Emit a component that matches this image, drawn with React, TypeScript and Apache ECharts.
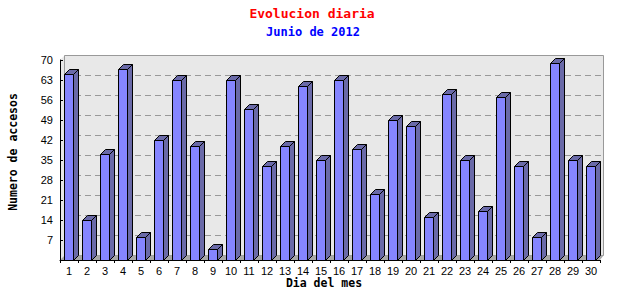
import React, { useEffect, useRef } from "react";
import * as echarts from "echarts";

const days: string[] = [
  "1","2","3","4","5","6","7","8","9","10","11","12","13","14","15",
  "16","17","18","19","20","21","22","23","24","25","26","27","28","29","30",
];
const visits: number[] = [
  65, 14, 37, 67, 8, 42, 63, 40, 4, 63, 53, 33, 40, 61, 35,
  63, 39, 23, 49, 47, 15, 58, 35, 17, 57, 33, 8, 69, 35, 33,
];
const yTicks: number[] = [7, 14, 21, 28, 35, 42, 49, 56, 63, 70];

const titleText = "Evolucion diaria";
const subtitleText = "Junio de 2012";
const yAxisTitle = "Numero de accesos";
const xAxisTitle = "Dia del mes";

const FRONT = "#8585ff";
const SIDE = "#6a6aa8";
const WALL = "#e8e8e8";
const FLOOR = "#a8a8a8";
const DX = 5;
const DY = 5;

export default function App() {
  const ref = useRef<HTMLDivElement>(null);

  useEffect(() => {
    document.body.style.margin = "0";
    if (!ref.current) return;
    const chart = echarts.init(ref.current, undefined, { renderer: "svg" });

    const option: any = {
      animation: false,
      backgroundColor: "#ffffff",
      grid: { left: 60, right: 40, top: 60, bottom: 40, containLabel: false },
      xAxis: {
        type: "category",
        data: days,
        z: 10,
        boundaryGap: true,
        axisLine: { show: true, lineStyle: { color: "#000", width: 1 } },
        axisTick: { show: true, length: 3, inside: false, alignWithLabel: false, lineStyle: { color: "#000" } },
        axisLabel: {
          color: "#000",
          fontFamily: "Liberation Sans",
          fontSize: 11,
          lineHeight: 11,
          margin: 5,
          interval: 0,
        },
        splitLine: { show: false },
      },
      yAxis: {
        type: "value",
        min: 0,
        max: 70,
        interval: 7,
        z: 10,
        axisLine: { show: true, lineStyle: { color: "#000", width: 1 } },
        axisTick: { show: true, length: 3, inside: true, lineStyle: { color: "#000" } },
        axisLabel: {
          color: "#000",
          fontFamily: "Liberation Sans",
          fontSize: 11,
          margin: 7,
          formatter: (v: number) => (v === 0 ? "" : String(v)),
        },
        splitLine: { show: false },
      },
      series: [
        {
          type: "custom",
          z: 0,
          silent: true,
          data: [[0, 0]],
          renderItem: (params: any, api: any) => {
            const cs = params.coordSys;
            const gx = cs.x, gy = cs.y, gw = cs.width, gh = cs.height;
            const bx0 = Math.round(gx + 3.5) + 0.5;
            const bx1 = Math.round(gx + gw + 2.5) + 0.5;
            const by0 = Math.round(gy - DY) + 0.5;
            const by1 = Math.round(gy + gh - DY) + 0.5;
            return {
              type: "group",
              children: [
                {
                  type: "polygon",
                  shape: { points: [[gx, gy], [bx0, by0], [bx0, by1], [gx, gy + gh]] },
                  style: { fill: WALL, stroke: null },
                },
                {
                  type: "rect",
                  shape: { x: bx0, y: by0, width: bx1 - bx0, height: by1 - by0 },
                  style: { fill: WALL, stroke: "#999999", lineWidth: 1 },
                },
                {
                  type: "polygon",
                  shape: { points: [[gx, gy + gh], [gx + gw, gy + gh], [bx1, by1], [bx0, by1]] },
                  style: { fill: FLOOR, stroke: null },
                },
              ],
            };
          },
        },
        {
          type: "custom",
          z: 1,
          silent: true,
          data: yTicks.map((v) => [0, v]),
          renderItem: (params: any, api: any) => {
            const cs = params.coordSys;
            const v = api.value(1);
            if (v >= 70) return { type: "group", children: [] };
            const y = Math.round(api.coord([0, v])[1] - DY) + 0.5;
            const x0 = Math.round(cs.x + 3.5) + 1;
            const x1 = Math.round(cs.x + cs.width + 2.5);
            return {
              type: "line",
              shape: { x1: x0, y1: y, x2: x1, y2: y },
              style: { stroke: "#999999", lineWidth: 1, lineDash: [6, 4] },
            };
          },
        },
        {
          type: "custom",
          z: 2,
          data: visits.map((v, i) => [i, v]),
          renderItem: (params: any, api: any) => {
            const idx = api.value(0);
            const v = api.value(1);
            const top = api.coord([idx, v]);
            const base = api.coord([idx, 0]);
            const w = 9;
            const x0 = Math.round(top[0] - 5.3) + 0.5;
            const x1 = x0 + w;
            const yT = Math.round(top[1]) + 0.5;
            const yB = Math.round(base[1]) + 0.5;
            return {
              type: "group",
              children: [
                {
                  type: "polygon",
                  shape: { points: [[x1, yB], [x1, yT], [x1 + DX, yT - DY], [x1 + DX, yB - DY]] },
                  style: { fill: SIDE, stroke: "#000", lineWidth: 1 },
                },
                {
                  type: "polygon",
                  shape: { points: [[x0, yT], [x0 + DX, yT - DY], [x1 + DX, yT - DY], [x1, yT]] },
                  style: { fill: SIDE, stroke: "#000", lineWidth: 1 },
                },
                {
                  type: "rect",
                  shape: { x: x0, y: yT, width: w, height: yB - yT },
                  style: { fill: FRONT, stroke: "#000", lineWidth: 1 },
                },
              ],
            };
          },
        },
      ],
      graphic: [
        {
          type: "text",
          x: 312,
          y: 13,
          style: {
            text: titleText,
            align: "center",
            verticalAlign: "middle",
            fill: "#ff0000",
            font: "bold 13px 'DejaVu Sans Mono'",
          },
        },
        {
          type: "text",
          x: 313,
          y: 31.5,
          style: {
            text: subtitleText,
            align: "center",
            verticalAlign: "middle",
            fill: "#0000ff",
            font: "bold 12px 'DejaVu Sans Mono'",
          },
        },
        {
          type: "text",
          x: 13,
          y: 152,
          rotation: Math.PI / 2,
          style: {
            text: yAxisTitle,
            align: "center",
            verticalAlign: "middle",
            fill: "#000",
            font: "bold 11.5px 'DejaVu Sans Mono'",
          },
        },
        {
          type: "text",
          x: 324,
          y: 282.5,
          style: {
            text: xAxisTitle,
            align: "center",
            verticalAlign: "middle",
            fill: "#000",
            lineHeight: 11,
            font: "bold 11.5px 'DejaVu Sans Mono'",
          },
        },
      ],
    };

    chart.setOption(option);
    return () => chart.dispose();
  }, []);

  return (
    <div
      ref={ref}
      style={{ position: "fixed", left: 0, top: 0, width: 640, height: 300 }}
    />
  );
}
